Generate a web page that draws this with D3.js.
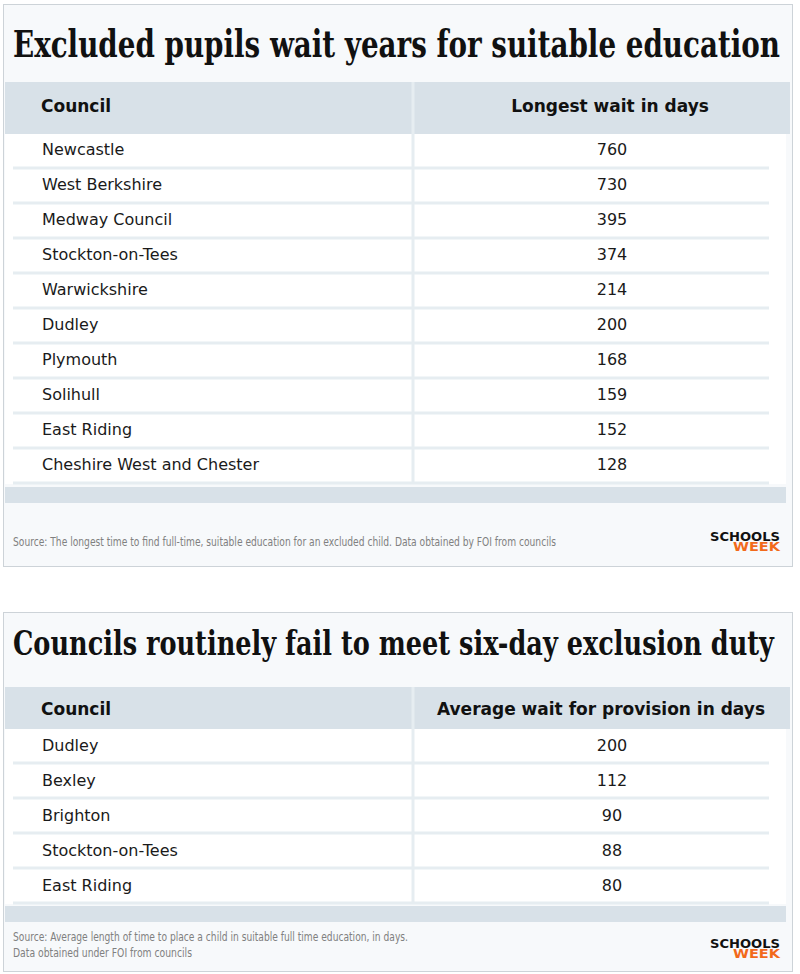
<!DOCTYPE html>
<html>
<head>
<meta charset="utf-8">
<script src="https://cdn.jsdelivr.net/npm/d3@7"></script>
<style>
html, body { margin: 0; padding: 0; background: #fff; }
svg { display: block; }
</style>
</head>
<body>
<svg id="chart" width="800" height="974"></svg>
<script>
// table 1
const title1 = 'Excluded pupils wait years for suitable education';
const colHeads1 = [ 'Council', 'Longest wait in days' ];
const councils1 = [ 'Newcastle', 'West Berkshire', 'Medway Council', 'Stockton-on-Tees', 'Warwickshire',
    'Dudley', 'Plymouth', 'Solihull', 'East Riding', 'Cheshire West and Chester' ];
const waits1 = [ 760, 730, 395, 374, 214, 200, 168, 159, 152, 128 ];
const source1 = [ 'Source: The longest time to find full-time, suitable education for an excluded child. Data obtained by FOI from councils' ];

// table 2
const title2 = 'Councils routinely fail to meet six-day exclusion duty';
const colHeads2 = [ 'Council', 'Average wait for provision in days' ];
const councils2 = [ 'Dudley', 'Bexley', 'Brighton', 'Stockton-on-Tees', 'East Riding' ];
const waits2 = [ 200, 112, 90, 88, 80 ];
const source2 = [ 'Source: Average length of time to place a child in suitable full time education, in days.',
    'Data obtained under FOI from councils' ];

const logoWords = [ 'SCHOOLS', 'WEEK' ];

const svg = d3.select( '#chart' );
const sans = '"DejaVu Sans", sans-serif';
const narrow = '"Liberation Sans Narrow", "DejaVu Sans Condensed", sans-serif';

const drawPanel = p => {
    const g = svg.append( 'g' );

    g.append( 'rect' )
        .attr( 'x', 3.5 ).attr( 'y', p.top + 0.5 )
        .attr( 'width', 789 ).attr( 'height', p.bottom - p.top )
        .attr( 'fill', '#f7f9fb' ).attr( 'stroke', '#cdd3d8' );

    // title: shrink font until it fits the width, then stretch back up vertically
    const title = g.append( 'text' )
        .attr( 'font-family', '"DejaVu Serif Condensed", "DejaVu Serif", serif' )
        .attr( 'font-weight', 'bold' )
        .attr( 'font-size', p.titleSize )
        .attr( 'fill', '#111' )
        .text( p.title );
    const natural = title.node().getComputedTextLength();
    const k = Math.min( 1, p.titleW / natural );
    title.attr( 'font-size', p.titleSize * k )
        .attr( 'textLength', p.titleW ).attr( 'lengthAdjust', 'spacingAndGlyphs' )
        .attr( 'transform', `translate(13,${p.titleY}) scale(1,${1 / k})` );

    const rowTop = p.headTop + p.headH;
    const y = d3.scaleBand()
        .domain( p.councils )
        .range( [ rowTop, rowTop + p.councils.length * 35 ] );
    const rowEnd = y.range()[ 1 ];

    // header band
    g.append( 'rect' )
        .attr( 'x', 5 ).attr( 'y', p.headTop )
        .attr( 'width', 785 ).attr( 'height', p.headH )
        .attr( 'fill', '#d8e1e8' );

    // row area
    g.append( 'rect' )
        .attr( 'x', 5 ).attr( 'y', rowTop )
        .attr( 'width', 781 ).attr( 'height', rowEnd - rowTop )
        .attr( 'fill', '#fff' );

    g.selectAll( '.sep' )
        .data( p.councils )
        .enter().append( 'line' )
        .attr( 'class', 'sep' )
        .attr( 'x1', 13 ).attr( 'x2', 769 )
        .attr( 'y1', d => y( d ) + y.bandwidth() - 1 )
        .attr( 'y2', d => y( d ) + y.bandwidth() - 1 )
        .attr( 'stroke', '#e6edf1' ).attr( 'stroke-width', 3 );

    g.append( 'line' )
        .attr( 'x1', 413 ).attr( 'x2', 413 )
        .attr( 'y1', p.headTop ).attr( 'y2', rowEnd )
        .attr( 'stroke', '#e6edf1' ).attr( 'stroke-width', 3 );

    // footer band
    g.append( 'rect' )
        .attr( 'x', 5 ).attr( 'y', rowEnd + p.footGap )
        .attr( 'width', 781 ).attr( 'height', 16 )
        .attr( 'fill', '#d8e1e8' );

    // column heads
    g.append( 'text' )
        .attr( 'x', 41 ).attr( 'y', p.headText )
        .attr( 'font-family', sans ).attr( 'font-weight', 'bold' ).attr( 'font-size', 17 )
        .attr( 'fill', '#111' )
        .text( p.heads[ 0 ] );
    g.append( 'text' )
        .attr( 'x', p.headX ).attr( 'y', p.headText )
        .attr( 'text-anchor', 'middle' )
        .attr( 'font-family', sans ).attr( 'font-weight', 'bold' ).attr( 'font-size', 17 )
        .attr( 'fill', '#111' )
        .text( p.heads[ 1 ] );

    g.selectAll( '.name' )
        .data( p.councils )
        .enter().append( 'text' )
        .attr( 'class', 'name' )
        .attr( 'x', 42 ).attr( 'y', d => y( d ) + p.baseOff )
        .attr( 'font-family', sans ).attr( 'font-size', 16 )
        .attr( 'fill', '#1a1a1a' )
        .text( d => d );

    g.selectAll( '.val' )
        .data( p.waits )
        .enter().append( 'text' )
        .attr( 'class', 'val' )
        .attr( 'x', 612 ).attr( 'y', ( d, i ) => y( p.councils[ i ] ) + p.baseOff )
        .attr( 'text-anchor', 'middle' )
        .attr( 'font-family', sans ).attr( 'font-size', 16 )
        .attr( 'fill', '#1a1a1a' )
        .text( d => d );

    g.selectAll( '.src' )
        .data( p.source )
        .enter().append( 'text' )
        .attr( 'class', 'src' )
        .attr( 'x', 13 ).attr( 'y', ( d, i ) => p.srcY + i * 16 )
        .attr( 'font-family', narrow ).attr( 'font-size', 12.5 )
        .attr( 'fill', '#808080' )
        .attr( 'textLength', ( d, i ) => p.srcW[ i ] ).attr( 'lengthAdjust', 'spacingAndGlyphs' )
        .text( d => d );

    // logo, one text with two stacked words
    const logo = g.append( 'text' )
        .attr( 'text-anchor', 'end' )
        .attr( 'font-family', sans ).attr( 'font-weight', 'bold' ).attr( 'font-size', 13 );
    logo.selectAll( 'tspan' )
        .data( logoWords )
        .enter().append( 'tspan' )
        .attr( 'x', 780 )
        .attr( 'y', ( d, i ) => p.logoY + i * 10 )
        .attr( 'textLength', ( d, i ) => i ? 47 : 70 ).attr( 'lengthAdjust', 'spacingAndGlyphs' )
        .attr( 'fill', ( d, i ) => i ? '#f26a1b' : '#111' )
        .text( d => d );
};

drawPanel( {
    top: 4, bottom: 566,
    title: title1, titleY: 57, titleSize: 38, titleW: 767,
    heads: colHeads1, headTop: 82, headH: 52, headText: 111.5, headX: 610,
    councils: councils1, waits: waits1, baseOff: 20.5, footGap: 3,
    source: source1, srcY: 546, srcW: [ 543 ],
    logoY: 540.5
} );

drawPanel( {
    top: 612, bottom: 971,
    title: title2, titleY: 655, titleSize: 33, titleW: 761,
    heads: colHeads2, headTop: 687, headH: 42, headText: 715, headX: 601,
    councils: councils2, waits: waits2, baseOff: 21.5, footGap: 2,
    source: source2, srcY: 941, srcW: [ 395, 179 ],
    logoY: 948
} );
</script>
</body>
</html>
